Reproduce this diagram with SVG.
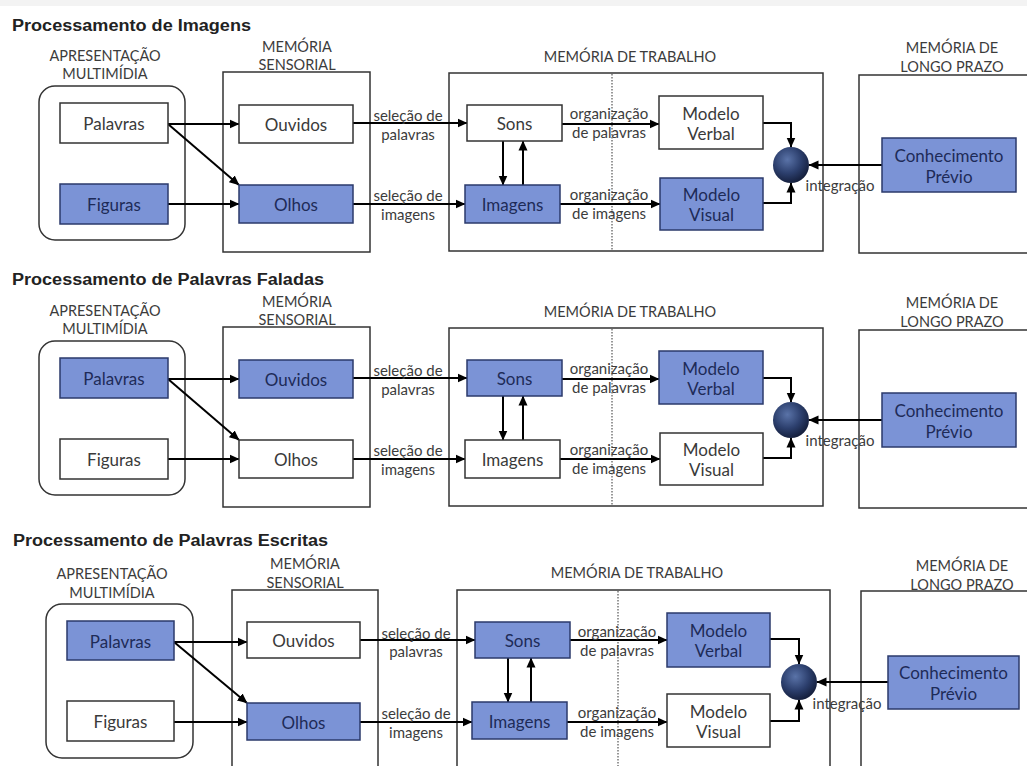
<svg xmlns="http://www.w3.org/2000/svg" width="1027" height="766" viewBox="0 0 1027 766">
<defs>
<style>
.frame{fill:none;stroke:#333;stroke-width:1.5}
.w{fill:#fff;stroke:#333;stroke-width:1.5}
.b{fill:#7b93d6;stroke:#2b3a6b;stroke-width:1.5}
.t{font-family:Lato,"Liberation Sans",sans-serif;text-anchor:middle;dominant-baseline:central}
.nl{font-size:17px}
.tw{fill:#3a3a3a}
.tb{fill:#1e2b58}
.hdr{font-size:14.5px;fill:#3c3c3c}
.sm{font-size:15px;fill:#3c3c3c}
.conn path{fill:none;stroke:#000;stroke-width:2}
.dot{stroke:#777;stroke-width:1.5;stroke-dasharray:1.5 1.5}
.title{font-family:"Liberation Sans",Arial,sans-serif;font-weight:bold;font-size:16px;fill:#222}
</style>
<marker id="ah" markerWidth="10" markerHeight="10" refX="9.5" refY="5" orient="auto" markerUnits="userSpaceOnUse"><path d="M0,0.5 L10,5 L0,9.5 z" fill="#000"/></marker>
<radialGradient id="sph" cx="40%" cy="35%" r="70%"><stop offset="0" stop-color="#5a73a8"/><stop offset="0.55" stop-color="#2c3f6d"/><stop offset="1" stop-color="#121b36"/></radialGradient>
</defs>
<rect x="0" y="0" width="1027" height="766" fill="#fff"/>
<rect x="0" y="0" width="1027" height="6" fill="#f3f3f3"/>

<text class="title" x="12" y="30.5" textLength="239" lengthAdjust="spacingAndGlyphs">Processamento de Imagens</text>
<text class="title" x="12" y="285" textLength="312" lengthAdjust="spacingAndGlyphs">Processamento de Palavras Faladas</text>
<text class="title" x="13" y="546" textLength="315" lengthAdjust="spacingAndGlyphs">Processamento de Palavras Escritas</text>

<!-- PANEL 1 -->
<g id="panel1">
 <g id="p1-multimidia"><rect class="frame" x="39" y="86" width="146" height="154" rx="16"/><text class="t hdr" x="105" y="55">APRESENTAÇÃO</text><text class="t hdr" x="105" y="73">MULTIMÍDIA</text></g>
 <g id="p1-sensorial"><rect class="frame" x="223" y="72" width="147" height="180"/><text class="t hdr" x="297" y="46">MEMÓRIA</text><text class="t hdr" x="297" y="64">SENSORIAL</text></g>
 <g id="p1-trabalho"><rect class="frame" x="449" y="73" width="374" height="178"/><line class="dot" x1="612" y1="74" x2="612" y2="250"/><text class="t hdr" x="630" y="56">MEMÓRIA DE TRABALHO</text></g>
 <g id="p1-longo"><rect class="frame" x="859" y="75" width="200" height="178"/><text class="t hdr" x="952" y="47">MEMÓRIA DE</text><text class="t hdr" x="952" y="66">LONGO PRAZO</text></g>
 <g id="p1-connectors" class="conn">
  <path d="M168,124 H239" marker-end="url(#ah)"/>
  <path d="M168,124 L239,185" marker-end="url(#ah)"/>
  <path d="M168,204 H239" marker-end="url(#ah)"/>
  <path d="M353,123 H467" marker-end="url(#ah)"/>
  <path d="M353,204 H465" marker-end="url(#ah)"/>
  <path d="M562,124 H659" marker-end="url(#ah)"/>
  <path d="M560,204 H660" marker-end="url(#ah)"/>
  <path d="M503,141 V185" marker-end="url(#ah)"/>
  <path d="M523,185 V141" marker-end="url(#ah)"/>
  <path d="M763,123 H791 V147" marker-end="url(#ah)"/>
  <path d="M763,203 H791 V183" marker-end="url(#ah)"/>
  <path d="M882,165 H809" marker-end="url(#ah)"/>
  <text class="t sm" x="408" y="115">seleção de</text><text class="t sm" x="408" y="134">palavras</text>
  <text class="t sm" x="408" y="195">seleção de</text><text class="t sm" x="408" y="214">imagens</text>
  <text class="t sm" x="609" y="113">organização</text><text class="t sm" x="609" y="132">de palavras</text>
  <text class="t sm" x="609" y="194">organização</text><text class="t sm" x="609" y="213">de imagens</text>
  <text class="t sm" x="840" y="185">integração</text>
 </g>
 <g id="p1-palavras"><rect class="w" x="60" y="103" width="108" height="40"/><text class="t nl tw" x="114" y="123">Palavras</text></g>
 <g id="p1-figuras"><rect class="b" x="60" y="184" width="108" height="40"/><text class="t nl tb" x="114" y="204">Figuras</text></g>
 <g id="p1-ouvidos"><rect class="w" x="239" y="105" width="114" height="38"/><text class="t nl tw" x="296" y="124">Ouvidos</text></g>
 <g id="p1-olhos"><rect class="b" x="239" y="185" width="114" height="38"/><text class="t nl tb" x="296" y="204">Olhos</text></g>
 <g id="p1-sons"><rect class="w" x="467" y="105" width="95" height="36"/><text class="t nl tw" x="514.5" y="123">Sons</text></g>
 <g id="p1-imagens"><rect class="b" x="465" y="185" width="95" height="38"/><text class="t nl tb" x="512.5" y="204">Imagens</text></g>
 <g id="p1-verbal"><rect class="w" x="659" y="96" width="104" height="53"/><text class="t nl tw" x="711" y="113">Modelo</text><text class="t nl tw" x="711" y="133">Verbal</text></g>
 <g id="p1-visual"><rect class="b" x="660" y="178" width="103" height="52"/><text class="t nl tb" x="711.5" y="194">Modelo</text><text class="t nl tb" x="711.5" y="214">Visual</text></g>
 <g id="p1-integracao"><circle cx="791" cy="165" r="18" fill="url(#sph)"/></g>
 <g id="p1-conhecimento"><rect class="b" x="882" y="138" width="134" height="54"/><text class="t nl tb" x="949" y="155">Conhecimento</text><text class="t nl tb" x="949" y="176">Prévio</text></g>
</g>

<!-- PANEL 2 -->
<g id="panel2" transform="translate(0,255)">
 <g id="p2-multimidia"><rect class="frame" x="39" y="86" width="146" height="154" rx="16"/><text class="t hdr" x="105" y="55">APRESENTAÇÃO</text><text class="t hdr" x="105" y="73">MULTIMÍDIA</text></g>
 <g id="p2-sensorial"><rect class="frame" x="223" y="72" width="147" height="180"/><text class="t hdr" x="297" y="46">MEMÓRIA</text><text class="t hdr" x="297" y="64">SENSORIAL</text></g>
 <g id="p2-trabalho"><rect class="frame" x="449" y="73" width="374" height="178"/><line class="dot" x1="612" y1="74" x2="612" y2="250"/><text class="t hdr" x="630" y="56">MEMÓRIA DE TRABALHO</text></g>
 <g id="p2-longo"><rect class="frame" x="859" y="75" width="200" height="178"/><text class="t hdr" x="952" y="47">MEMÓRIA DE</text><text class="t hdr" x="952" y="66">LONGO PRAZO</text></g>
 <g id="p2-connectors" class="conn">
  <path d="M168,124 H239" marker-end="url(#ah)"/>
  <path d="M168,124 L239,185" marker-end="url(#ah)"/>
  <path d="M168,204 H239" marker-end="url(#ah)"/>
  <path d="M353,123 H467" marker-end="url(#ah)"/>
  <path d="M353,204 H465" marker-end="url(#ah)"/>
  <path d="M562,124 H659" marker-end="url(#ah)"/>
  <path d="M560,204 H660" marker-end="url(#ah)"/>
  <path d="M503,141 V185" marker-end="url(#ah)"/>
  <path d="M523,185 V141" marker-end="url(#ah)"/>
  <path d="M763,123 H791 V147" marker-end="url(#ah)"/>
  <path d="M763,203 H791 V183" marker-end="url(#ah)"/>
  <path d="M882,165 H809" marker-end="url(#ah)"/>
  <text class="t sm" x="408" y="115">seleção de</text><text class="t sm" x="408" y="134">palavras</text>
  <text class="t sm" x="408" y="195">seleção de</text><text class="t sm" x="408" y="214">imagens</text>
  <text class="t sm" x="609" y="113">organização</text><text class="t sm" x="609" y="132">de palavras</text>
  <text class="t sm" x="609" y="194">organização</text><text class="t sm" x="609" y="213">de imagens</text>
  <text class="t sm" x="840" y="185">integração</text>
 </g>
 <g id="p2-palavras"><rect class="b" x="60" y="103" width="108" height="40"/><text class="t nl tb" x="114" y="123">Palavras</text></g>
 <g id="p2-figuras"><rect class="w" x="60" y="184" width="108" height="40"/><text class="t nl tw" x="114" y="204">Figuras</text></g>
 <g id="p2-ouvidos"><rect class="b" x="239" y="105" width="114" height="38"/><text class="t nl tb" x="296" y="124">Ouvidos</text></g>
 <g id="p2-olhos"><rect class="w" x="239" y="185" width="114" height="38"/><text class="t nl tw" x="296" y="204">Olhos</text></g>
 <g id="p2-sons"><rect class="b" x="467" y="105" width="95" height="36"/><text class="t nl tb" x="514.5" y="123">Sons</text></g>
 <g id="p2-imagens"><rect class="w" x="465" y="185" width="95" height="38"/><text class="t nl tw" x="512.5" y="204">Imagens</text></g>
 <g id="p2-verbal"><rect class="b" x="659" y="96" width="104" height="53"/><text class="t nl tb" x="711" y="113">Modelo</text><text class="t nl tb" x="711" y="133">Verbal</text></g>
 <g id="p2-visual"><rect class="w" x="660" y="178" width="103" height="52"/><text class="t nl tw" x="711.5" y="194">Modelo</text><text class="t nl tw" x="711.5" y="214">Visual</text></g>
 <g id="p2-integracao"><circle cx="791" cy="165" r="18" fill="url(#sph)"/></g>
 <g id="p2-conhecimento"><rect class="b" x="882" y="138" width="134" height="54"/><text class="t nl tb" x="949" y="155">Conhecimento</text><text class="t nl tb" x="949" y="176">Prévio</text></g>
</g>

<!-- PANEL 3 -->
<g id="panel3" transform="translate(8,517)">
 <g id="p3-multimidia"><rect class="frame" x="38" y="87" width="147" height="154" rx="16"/><text class="t hdr" x="104" y="56">APRESENTAÇÃO</text><text class="t hdr" x="104" y="75">MULTIMÍDIA</text></g>
 <g id="p3-sensorial"><rect class="frame" x="224" y="73" width="146" height="190"/><text class="t hdr" x="297" y="46">MEMÓRIA</text><text class="t hdr" x="297" y="65">SENSORIAL</text></g>
 <g id="p3-trabalho"><rect class="frame" x="449" y="73" width="373" height="190"/><line class="dot" x1="610" y1="74" x2="610" y2="260"/><text class="t hdr" x="629" y="55">MEMÓRIA DE TRABALHO</text></g>
 <g id="p3-longo"><rect class="frame" x="853" y="74" width="200" height="190"/><text class="t hdr" x="954" y="48">MEMÓRIA DE</text><text class="t hdr" x="954" y="67">LONGO PRAZO</text></g>
 <g id="p3-connectors" class="conn">
  <path d="M166,125 H239" marker-end="url(#ah)"/>
  <path d="M166,125 L239,186" marker-end="url(#ah)"/>
  <path d="M166,205 H239" marker-end="url(#ah)"/>
  <path d="M352,123 H467" marker-end="url(#ah)"/>
  <path d="M352,205 H464" marker-end="url(#ah)"/>
  <path d="M562,123 H659" marker-end="url(#ah)"/>
  <path d="M559,205 H659" marker-end="url(#ah)"/>
  <path d="M500,141 V185" marker-end="url(#ah)"/>
  <path d="M523,185 V141" marker-end="url(#ah)"/>
  <path d="M762,122 H791 V147" marker-end="url(#ah)"/>
  <path d="M762,204 H791 V183" marker-end="url(#ah)"/>
  <path d="M880,165 H809" marker-end="url(#ah)"/>
  <text class="t sm" x="408" y="116">seleção de</text><text class="t sm" x="408" y="134">palavras</text>
  <text class="t sm" x="408" y="196">seleção de</text><text class="t sm" x="408" y="215">imagens</text>
  <text class="t sm" x="609" y="114">organização</text><text class="t sm" x="609" y="133">de palavras</text>
  <text class="t sm" x="609" y="195">organização</text><text class="t sm" x="609" y="214">de imagens</text>
  <text class="t sm" x="839" y="186">integração</text>
 </g>
 <g id="p3-palavras"><rect class="b" x="59" y="104" width="107" height="39"/><text class="t nl tb" x="112.5" y="124">Palavras</text></g>
 <g id="p3-figuras"><rect class="w" x="59" y="184" width="107" height="40"/><text class="t nl tw" x="112.5" y="204">Figuras</text></g>
 <g id="p3-ouvidos"><rect class="w" x="239" y="105" width="113" height="36"/><text class="t nl tw" x="295.5" y="123">Ouvidos</text></g>
 <g id="p3-olhos"><rect class="b" x="239" y="186" width="113" height="37"/><text class="t nl tb" x="295.5" y="205">Olhos</text></g>
 <g id="p3-sons"><rect class="b" x="467" y="105" width="95" height="36"/><text class="t nl tb" x="514.5" y="123">Sons</text></g>
 <g id="p3-imagens"><rect class="b" x="464" y="185" width="95" height="37"/><text class="t nl tb" x="511.5" y="204">Imagens</text></g>
 <g id="p3-verbal"><rect class="b" x="659" y="96" width="103" height="54"/><text class="t nl tb" x="710.5" y="113">Modelo</text><text class="t nl tb" x="710.5" y="133">Verbal</text></g>
 <g id="p3-visual"><rect class="w" x="659" y="177" width="103" height="53"/><text class="t nl tw" x="710.5" y="194">Modelo</text><text class="t nl tw" x="710.5" y="214">Visual</text></g>
 <g id="p3-integracao"><circle cx="791" cy="165" r="18" fill="url(#sph)"/></g>
 <g id="p3-conhecimento"><rect class="b" x="880" y="139" width="131" height="53"/><text class="t nl tb" x="945.5" y="155">Conhecimento</text><text class="t nl tb" x="945.5" y="176">Prévio</text></g>
</g>
</svg>
